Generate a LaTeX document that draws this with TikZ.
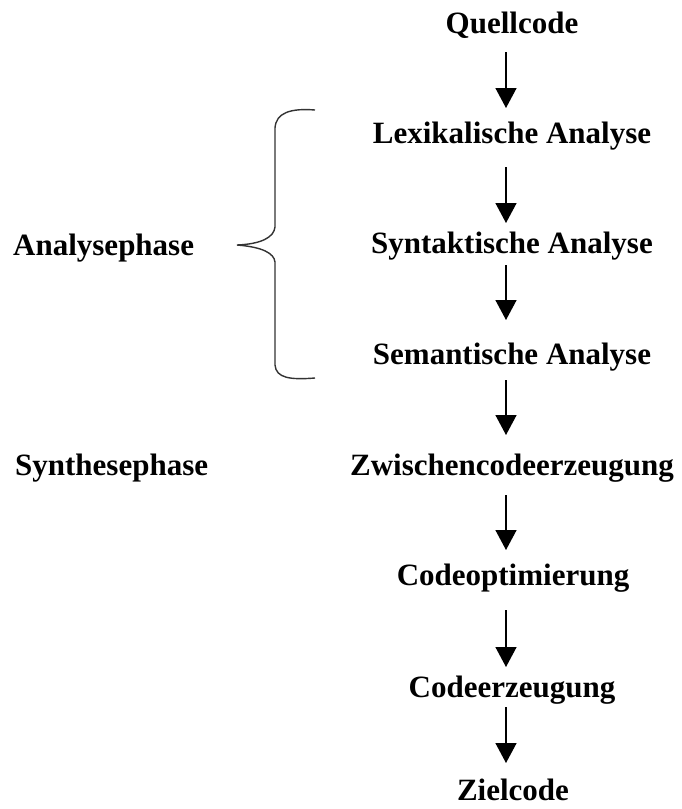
\documentclass[tikz,border=0pt]{standalone}
\usepackage{fontspec}
\setmainfont{Liberation Serif}
\usetikzlibrary{arrows.meta}
\begin{document}
\begin{tikzpicture}[x=1pt,y=-1pt,
  lbl/.style={inner sep=0pt,font=\fontsize{31}{36}\selectfont\bfseries,anchor=base},
  side/.style={inner sep=0pt,font=\fontsize{31}{36}\selectfont\bfseries,anchor=base west},
  arr/.style={line width=1.5pt,-{Triangle[width=21pt,length=20pt]}},
  bracestyle/.style={line width=1.4pt,draw=black!80}]
\path[fill=white] (0,0) rectangle (682,809);
\coordinate (ax) at (506,0);
\node[lbl] (q) at (512,33) {Quellcode};
\node[lbl] (l) at (512,143) {Lexikalische Analyse};
\node[lbl] (s) at (512,253) {Syntaktische Analyse};
\node[lbl] (m) at (512,364) {Semantische Analyse};
\node[lbl] (z) at (512,475) {Zwischencodeerzeugung};
\node[lbl] (o) at (513,585) {Codeoptimierung};
\node[lbl] (c) at (512,697) {Codeerzeugung};
\node[lbl,text depth=0pt] (t) at (513,800) {Zielcode};
\node[side] (ap) at (13,255) {Analysephase};
\node[side] (sp) at (15,475) {Synthesephase};
\draw[arr] ([yshift=-19pt]q.base -| ax) -- ([yshift=35pt]l.base -| ax);
\draw[arr] ([yshift=-24pt]l.base -| ax) -- ([yshift=30pt]s.base -| ax);
\draw[arr] ([yshift=-12pt]s.base -| ax) -- ([yshift=44pt]m.base -| ax);
\draw[arr] ([yshift=-16pt]m.base -| ax) -- ([yshift=40pt]z.base -| ax);
\draw[arr] ([yshift=-20pt]z.base -| ax) -- ([yshift=35pt]o.base -| ax);
\draw[arr] ([yshift=-25pt]o.base -| ax) -- ([yshift=30pt]c.base -| ax);
\draw[arr] ([yshift=-10pt]c.base -| ax) -- ([yshift=37pt]t.base -| ax);
\draw[bracestyle] (315,110) .. controls (290,108) and (276,113) .. (275,128)
  -- (275,227) .. controls (274,237) and (262,244) .. (237,245)
  .. controls (262,247) and (274,253) .. (275,262)
  -- (275,365) .. controls (276,378) and (290,380) .. (315,378);
\end{tikzpicture}
\end{document}
